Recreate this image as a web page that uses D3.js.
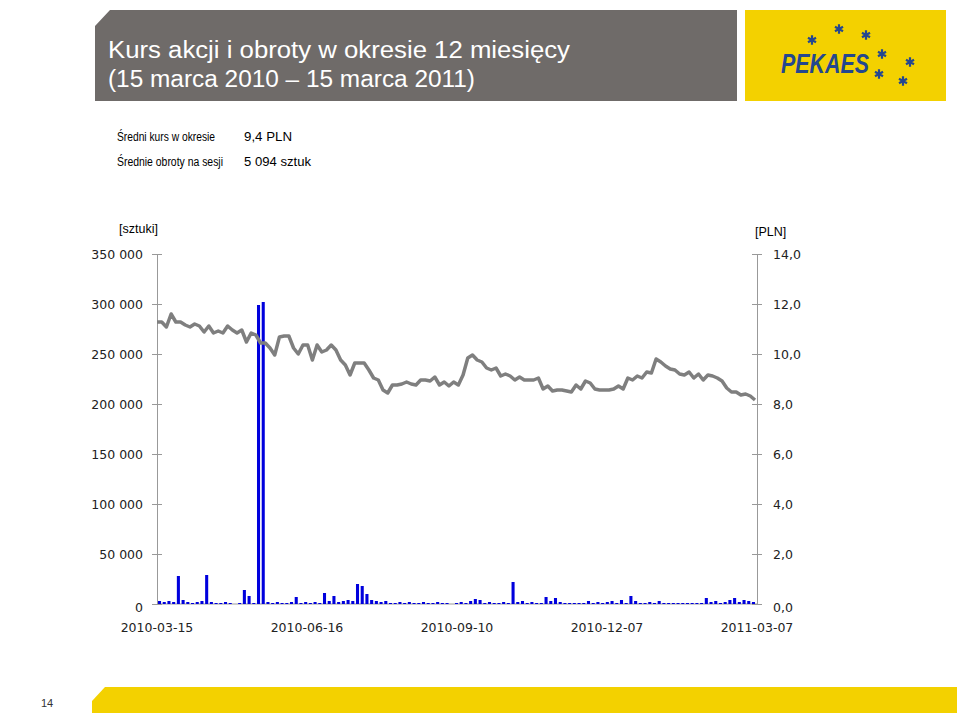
<!DOCTYPE html>
<html><head><meta charset="utf-8">
<script src="https://cdn.jsdelivr.net/npm/d3@7"></script>
<style>body{margin:0;background:#fff}svg{display:block}</style>
</head><body>
<script>
// share price, PLN (evenly spaced samples)
var priceValues = [11.28,11.28,11.08,11.6,11.28,11.28,11.16,11.08,11.2,11.12,10.88,11.12,10.84,10.92,10.84,11.12,10.96,10.84,10.96,10.48,10.84,10.76,10.44,10.44,10.24,9.96,10.68,10.72,10.72,10.24,10.0,10.36,10.36,9.76,10.36,10.08,10.16,10.36,10.16,9.76,9.56,9.16,9.64,9.64,9.64,9.36,9.04,8.96,8.56,8.44,8.76,8.76,8.8,8.88,8.8,8.76,8.96,8.96,8.92,9.08,8.76,8.88,8.72,8.88,8.76,9.16,9.84,9.96,9.76,9.68,9.44,9.36,9.44,9.12,9.2,9.12,8.96,9.08,8.96,8.96,8.96,9.04,8.6,8.72,8.52,8.56,8.56,8.52,8.48,8.76,8.6,8.92,8.84,8.6,8.56,8.56,8.56,8.6,8.72,8.6,9.04,8.96,9.12,9.04,9.28,9.24,9.8,9.68,9.52,9.4,9.36,9.2,9.16,9.28,9.04,9.2,8.96,9.16,9.12,9.04,8.92,8.64,8.48,8.48,8.36,8.4,8.32,8.16];
// volume per session pair, shares
var volumeValues = [3000,2000,3000,2000,28000,4000,2000,1000,2000,3000,29000,2000,1000,1000,2000,1000,0,1000,14000,8000,1000,299000,302000,2000,1000,2000,1000,1000,2000,7000,1000,2000,1000,2000,1000,11000,3000,8000,2000,3000,4000,3000,20000,18000,10000,4000,3000,2000,3000,1000,1000,2000,1000,2000,1000,1000,2000,1000,1000,2000,1000,1000,0,1000,2000,1000,3000,5000,4000,1000,2000,1000,1000,2000,1000,22000,2000,3000,1000,2000,1000,1000,7000,3000,6000,2000,1000,1000,1000,1000,1000,3000,1000,2000,1000,2000,3000,1000,4000,1000,8000,3000,1000,1000,2000,1000,3000,1000,1000,1000,1000,1000,1000,1000,1000,1000,6000,2000,3000,1000,2000,4000,6000,2000,4000,3000,2000];
var leftTicks = [0,50000,100000,150000,200000,250000,300000,350000];
var rightTicks = [0,2,4,6,8,10,12,14];
var dateLabels = ['2010-03-15','2010-06-16','2010-09-10','2010-12-07','2011-03-07'];

var W = 960, H = 717;
var svg = d3.select('body').append('svg').attr('width', W).attr('height', H);
var x0 = 157, x1 = 757, yTop = 254, yBot = 604;
var sans = '"Liberation Sans", Arial, sans-serif';

// header
svg.append('path').attr('d', 'M110,10 L737,10 L737,101 L95,101 L95,26 Z').attr('fill', '#6f6b69');
svg.append('rect').attr('x', 745).attr('y', 10).attr('width', 201).attr('height', 91).attr('fill', '#f3d100');
svg.append('text').attr('x', 108).attr('y', 58).attr('fill', '#fff').attr('font-family', sans)
    .attr('font-size', 23).attr('textLength', 462).attr('lengthAdjust', 'spacingAndGlyphs').text('Kurs akcji i obroty w okresie 12 miesięcy');
svg.append('text').attr('x', 108).attr('y', 87).attr('fill', '#fff').attr('font-family', sans)
    .attr('font-size', 23).attr('textLength', 367).attr('lengthAdjust', 'spacingAndGlyphs').text('(15 marca 2010 – 15 marca 2011)');
svg.append('text').attr('x', 781).attr('y', 73).attr('fill', '#24478f').attr('font-family', sans)
    .attr('font-size', 27).attr('font-weight', 'bold').attr('font-style', 'italic')
    .attr('textLength', 88).attr('lengthAdjust', 'spacingAndGlyphs').text('PEKAES');
var star = d3.symbol().type(d3.symbolAsterisk).size(60);
[[812,40],[839,29],[866,35],[882,54],[910,62],[879,74],[903,81]].forEach(function(p) {
    svg.append('path').attr('d', star()).attr('transform', 'translate(' + p[0] + ',' + p[1] + ')')
        .attr('stroke', '#24478f').attr('stroke-width', 2.2).attr('fill', 'none');
});

// footer
svg.append('path').attr('d', 'M105,687 L957,687 L957,713 L92,713 L92,701 Z').attr('fill', '#f3d100');
svg.append('text').attr('x', 47).attr('y', 707).attr('font-size', 11).attr('font-family', sans)
    .attr('fill', '#333').attr('text-anchor', 'middle').text('14');

// summary
var info = [['Średni kurs w okresie', '9,4 PLN', 98, 48], ['Średnie obroty na sesji', '5 094 sztuk', 106, 67]];
info.forEach(function(r, i) {
    svg.append('text').attr('x', 117).attr('y', 141 + i * 25).attr('font-size', 12.5).attr('font-family', sans)
        .attr('textLength', r[2]).attr('lengthAdjust', 'spacingAndGlyphs').text(r[0]);
    svg.append('text').attr('x', 244).attr('y', 141 + i * 25).attr('font-size', 12.5).attr('font-family', sans)
        .attr('textLength', r[3]).attr('lengthAdjust', 'spacingAndGlyphs').text(r[1]);
});

// scales
var yL = d3.scaleLinear().domain([0, 350000]).range([yBot, yTop]);
var yR = d3.scaleLinear().domain([0, 14]).range([yBot, yTop]);
var xb = d3.scaleBand().domain(d3.range(volumeValues.length)).range([x0 + 1, x1 - 2]).paddingInner(0.35);
var xp = d3.scaleLinear().domain([0, priceValues.length - 1]).range([x0, x1 - 2]);
var fmt = function(v) { return d3.format(',')(v).replace(/,/g, ' '); };

var axisL = svg.append('g').attr('transform', 'translate(' + x0 + ',0)')
    .call(d3.axisLeft(yL).tickValues(leftTicks).tickSize(5).tickPadding(9).tickFormat(fmt));
var axisR = svg.append('g').attr('transform', 'translate(' + x1 + ',0)')
    .call(d3.axisRight(yR).tickValues(rightTicks).tickSize(5).tickPadding(11).tickFormat(function(v) { return d3.format('.1f')(v).replace('.', ','); }));
[axisL, axisR].forEach(function(a) {
    a.select('.domain').attr('stroke', '#999');
    a.selectAll('.tick line').attr('stroke', '#999').attr('x1', -5).attr('x2', 5);
    a.selectAll('text').attr('font-family', 'DejaVu Sans').attr('font-size', 12.5).attr('fill', '#222');
});
axisL.selectAll('.tick text').attr('x', -14);
axisR.selectAll('.tick text').attr('x', 16);
axisL.select('.tick:first-of-type text').attr('dy', '0.6em');
axisR.select('.tick:first-of-type text').attr('dy', '0.6em');
svg.append('line').attr('x1', x0).attr('x2', x1).attr('y1', yBot).attr('y2', yBot).attr('stroke', '#999');

svg.append('text').attr('x', 119).attr('y', 233).attr('font-size', 12.5).attr('font-family', sans).text('[sztuki]');
svg.append('text').attr('x', 755).attr('y', 236).attr('font-size', 12.5).attr('font-family', sans).text('[PLN]');

var xd = d3.scalePoint().domain(dateLabels).range([x0, x1]);
svg.selectAll('.date').data(dateLabels).enter().append('text')
    .attr('x', function(d) { return xd(d); }).attr('y', 632).attr('text-anchor', 'middle')
    .attr('font-family', 'DejaVu Sans').attr('font-size', 12.5).attr('fill', '#222').text(function(d) { return d; });

// volume bars
svg.selectAll('.bar').data(volumeValues).enter().append('rect')
    .attr('x', function(d, i) { return xb(i); }).attr('width', xb.bandwidth())
    .attr('y', function(d) { return yL(d); }).attr('height', function(d) { return yBot - yL(d); })
    .attr('fill', '#0000dd');

// price line
svg.append('path').datum(priceValues)
    .attr('d', d3.line().x(function(d, i) { return xp(i); }).y(function(d) { return yR(d); }))
    .attr('fill', 'none').attr('stroke', '#7f7f7f').attr('stroke-width', 3.5).attr('stroke-linejoin', 'round');
</script>
</body></html>
